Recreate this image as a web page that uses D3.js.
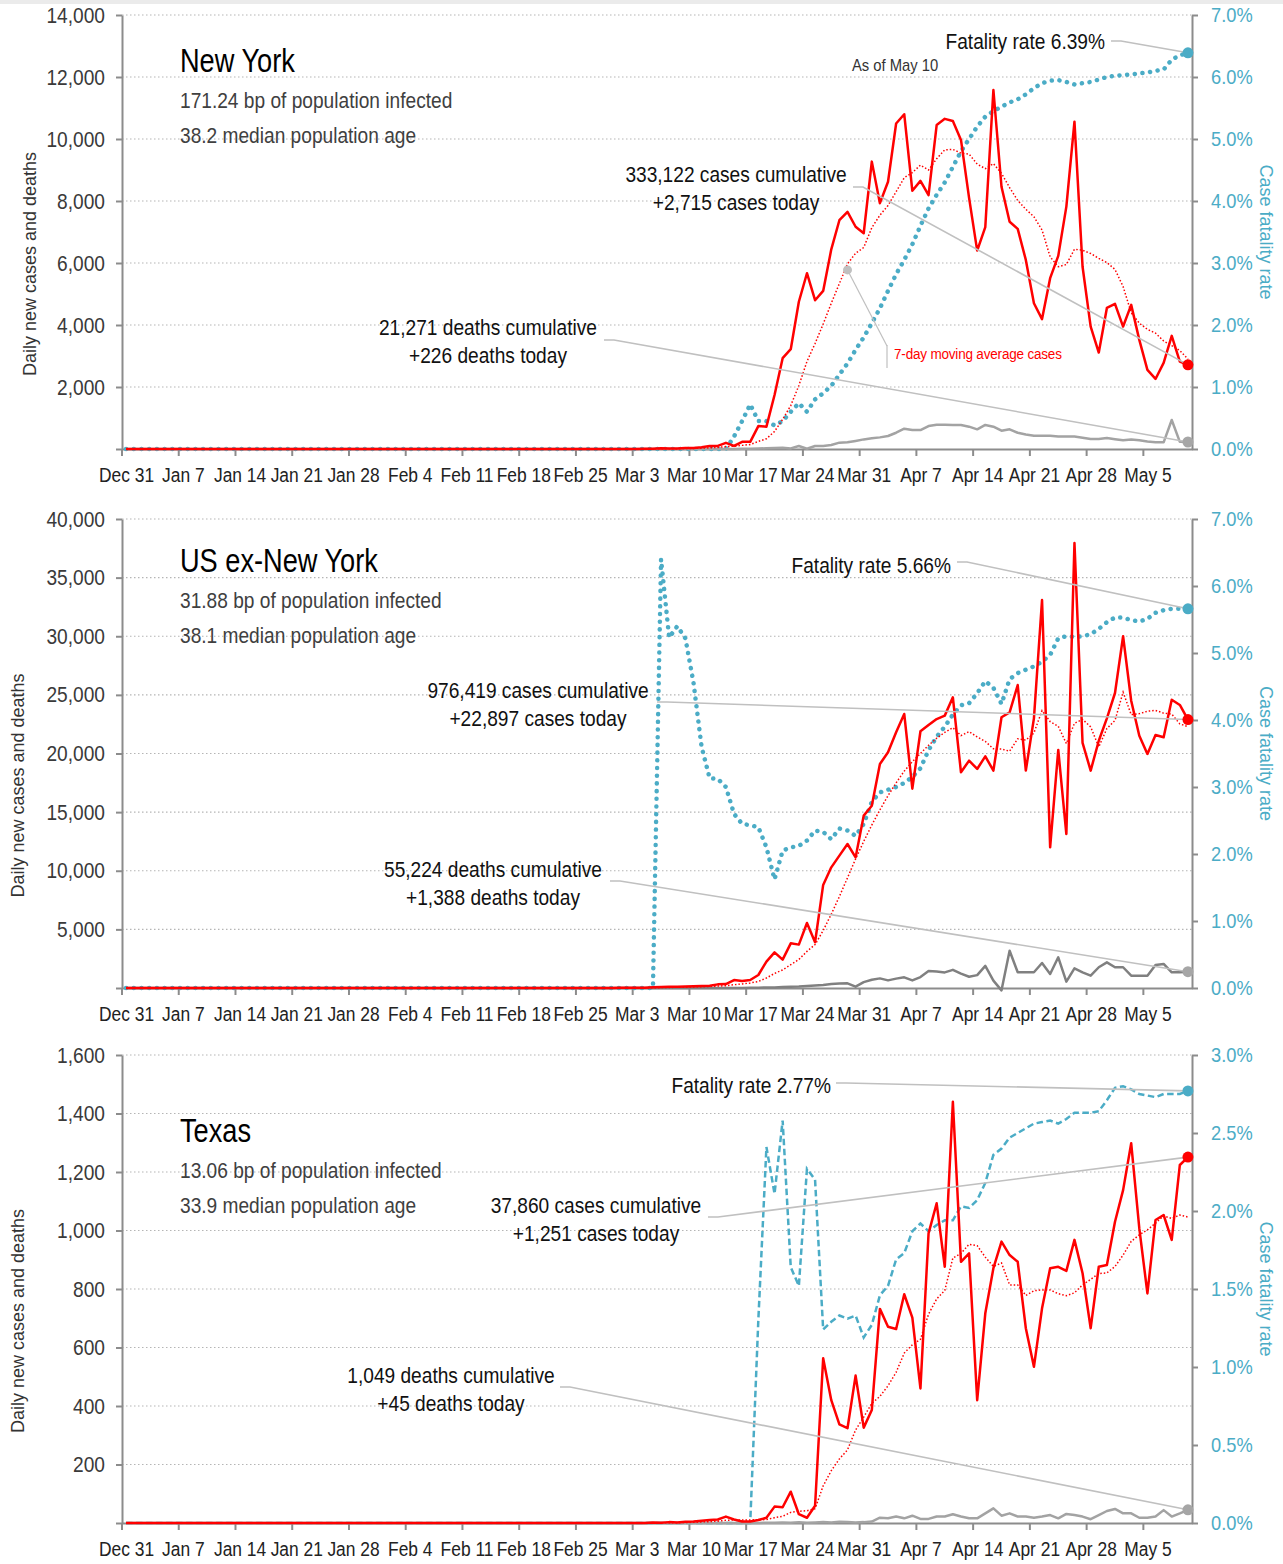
<!DOCTYPE html>
<html>
<head>
<meta charset="utf-8">
<script src="https://cdn.jsdelivr.net/npm/d3@7"></script>
<style>
    body { margin: 0; background: #ffffff; }
    svg text { font-family: "Liberation Sans", Arial, sans-serif; }
</style>
</head>
<body>
<div id="chart"></div>
<script>
"use strict"

/* days are counted from Dec 31 (day 0) to May 10 (day 131).
   every series below starts on Mar 1 (day 61); before that the picture shows zero */
const firstDay = 61;
const lastDay = 131;

const tickDays = [0, 7, 14, 21, 28, 35, 42, 49, 56, 63, 70, 77, 84, 91, 98, 105, 112, 119, 126];
const tickLabels = ["Dec 31", "Jan 7", "Jan 14", "Jan 21", "Jan 28", "Feb 4", "Feb 11", "Feb 18", "Feb 25",
    "Mar 3", "Mar 10", "Mar 17", "Mar 24", "Mar 31", "Apr 7", "Apr 14", "Apr 21", "Apr 28", "May 5"];

/* New York */
const nyCases = [0, 1, 0, 9, 11, 22, 13, 16, 36, 31,
    57, 100, 100, 200, 100, 230, 230, 740, 720, 1740,
    2930, 3220, 4750, 5670, 4800, 5100, 6440, 7380, 7650, 7170,
    6960, 9270, 7930, 8620, 10500, 10800, 8330, 8650, 8190, 10450,
    10650, 10580, 9970, 8100, 6400, 7160, 11580, 8460, 7330, 7100,
    6100, 4700, 4190, 5510, 6230, 7820, 10560, 5880, 3950, 3110,
    4550, 4680, 3950, 4650, 3520, 2550, 2260, 2780, 3650, 2820,
    2715];
const nyAverage = [0, 0, 0, 1, 3, 6, 8, 10, 15, 20,
    27, 39, 50, 77, 89, 117, 145, 243, 331, 566,
    956, 1401, 2047, 2824, 3404, 4030, 4701, 5337, 5970, 6316,
    6500, 7139, 7543, 7854, 8300, 8750, 8916, 9157, 9003, 9363,
    9653, 9664, 9546, 9513, 9191, 9044, 9206, 8893, 8429, 8019,
    7733, 7490, 7066, 6199, 5880, 5950, 6444, 6413, 6306, 6151,
    6014, 5793, 5240, 4396, 4059, 3859, 3737, 3484, 3337, 3176,
    2899];
const nyDeaths = [0, 0, 0, 0, 0, 0, 0, 0, 0, 0,
    0, 0, 0, 0, 0, 5, 10, 15, 25, 30,
    40, 20, 95, 10, 95, 95, 130, 205, 215, 260,
    310, 345, 375, 420, 525, 655, 610, 610, 740, 785,
    785, 775, 775, 720, 635, 775, 720, 590, 635, 525,
    470, 430, 430, 430, 400, 400, 400, 365, 320, 320,
    355, 315, 280, 305, 280, 240, 215, 215, 935, 230,
    226];
const nyRate = [0, 0, 0, 0, 0, 0, 0, 0, 0, 0,
    0, 0, 0, 0, 0.2, 0.45, 0.72, 0.45, 0.45, 0.38,
    0.45, 0.6, 0.74, 0.6, 0.8, 0.9, 1.02, 1.2, 1.38, 1.6,
    1.8, 2.03, 2.27, 2.55, 2.82, 3.05, 3.3, 3.6, 3.88, 4.1,
    4.3, 4.55, 4.8, 5.0, 5.2, 5.36, 5.45, 5.52, 5.59, 5.64,
    5.72, 5.82, 5.9, 5.94, 5.95, 5.92, 5.88, 5.9, 5.92, 5.96,
    6.0, 6.02, 6.03, 6.04, 6.06, 6.07, 6.1, 6.12, 6.28, 6.35,
    6.39];

/* US excluding New York */
const usCases = [20, 25, 20, 30, 60, 75, 100, 100, 120, 140,
    170, 200, 310, 340, 680, 600, 680, 1110, 2250, 3040,
    2420, 3810, 3700, 5540, 3900, 8790, 10290, 11290, 12280, 11140,
    14700, 15550, 19100, 20100, 21810, 23370, 17000, 21900, 22430, 22940,
    23230, 24790, 18400, 19390, 18680, 19760, 18540, 23090, 23510, 25840,
    18540, 23000, 33090, 12000, 20300, 13130, 37950, 20900, 18540, 21090,
    23000, 25160, 30000, 24500, 21520, 19960, 21580, 21380, 24590, 24140,
    22897];
const usAverage = [10, 12, 14, 17, 24, 33, 47, 59, 73, 89,
    109, 129, 163, 197, 280, 349, 426, 560, 853, 1243,
    1540, 1987, 2430, 3124, 3700, 4900, 6300, 7800, 9400, 11000,
    12500, 13900, 15200, 16400, 17500, 18500, 19300, 20000, 20700, 21300,
    21800, 22200, 21527, 21869, 21409, 21027, 20399, 20379, 20196, 21259,
    21137, 21754, 23659, 22724, 22326, 20843, 22573, 22910, 22273, 20559,
    22130, 22824, 25234, 23313, 23401, 23604, 23674, 23443, 23361, 22524,
    22295];
const usDeaths = [0, 0, 0, 0, 0, 0, 0, 0, 0, 0,
    0, 0, 5, 5, 10, 10, 20, 30, 40, 50,
    80, 100, 120, 170, 220, 260, 340, 380, 400, 110,
    500, 700, 820, 650, 800, 910, 650, 930, 1450, 1400,
    1330, 1550, 1220, 960, 1100, 1890, 630, -200, 3180, 1340,
    1340, 1340, 2130, 1190, 2620, 540, 1680, 1340, 1050, 1770,
    2190, 1770, 1770, 1050, 1050, 1050, 1960, 2050, 1340, 1340,
    1388];
const usRate = [0, 0, 0, 0, 0, 6.4, 5.23, 5.4, 5.22, 4.56,
    3.6, 3.13, 3.12, 3.0, 2.6, 2.45, 2.43, 2.4, 2.1, 1.62,
    2.05, 2.1, 2.12, 2.2, 2.35, 2.33, 2.22, 2.38, 2.35, 2.27,
    2.45, 2.78, 2.92, 2.96, 3.0, 3.06, 3.15, 3.28, 3.55, 3.75,
    3.9, 4.08, 4.22, 4.25, 4.4, 4.58, 4.48, 4.24, 4.61, 4.7,
    4.75, 4.8, 4.87, 4.97, 5.22, 5.25, 5.24, 5.25, 5.28, 5.36,
    5.46, 5.53, 5.53, 5.49, 5.47, 5.51, 5.6, 5.64, 5.66, 5.66,
    5.66];

/* Texas */
const txCases = [0, 0, 0, 0, 2, 1, 3, 2, 4, 5,
    8, 10, 12, 22, 12, 5, 5, 10, 18, 56,
    54, 107, 30, 18, 59, 563, 420, 337, 324, 504,
    326, 386, 732, 671, 663, 782, 702, 460, 990, 1093,
    876, 1440, 893, 922, 420, 717, 871, 962, 916, 893,
    666, 534, 734, 871, 876, 862, 968, 854, 666, 876,
    882, 1030, 1138, 1298, 1007, 785, 1036, 1053, 968, 1224,
    1251];
const txAverage = [0, 0, 0, 0, 0.3, 0.4, 0.9, 1.1, 1.7, 2.4,
    3.6, 4.7, 6.3, 9, 10.4, 10.6, 10.6, 10.9, 12, 18.3,
    22.9, 36.4, 40, 41.9, 48.9, 127, 179, 219, 250, 318,
    362, 409, 433, 469, 515, 581, 609, 628, 714, 766,
    795, 906, 922, 953, 948, 909, 877, 889, 814, 814,
    778, 794, 797, 797, 784, 777, 787, 814, 833, 853,
    855, 877, 916, 963, 985, 1002, 1025, 1050, 1041, 1053,
    1046];
const txDeaths = [0, 0, 0, 0, 0, 0, 0, 0, 0, 0,
    0, 0, 0, 0, 0, 0, 0, 0, 1, 1,
    2, 1, 3, 1, 2, 3, 2, 4, 3, 2,
    3, 5, 18, 16, 22, 16, 25, 14, 14, 22,
    22, 30, 22, 16, 16, 33, 50, 25, 33, 22,
    22, 18, 22, 27, 16, 31, 27, 22, 13, 27,
    41, 48, 33, 33, 18, 18, 22, 44, 22, 33,
    45];
const txRate = [0, 0, 0, 0, 0, 0, 0, 0, 0, 0,
    0, 0, 0, 0, 0, 0, 0, 1.3, 2.41, 2.11,
    2.58, 1.64, 1.52, 2.27, 2.2, 1.24, 1.29, 1.33, 1.31, 1.33,
    1.19, 1.27, 1.46, 1.52, 1.69, 1.73, 1.87, 1.92, 1.87, 1.91,
    1.94, 1.94, 2.03, 2.02, 2.07, 2.18, 2.36, 2.4, 2.47, 2.5,
    2.53, 2.56, 2.57, 2.58, 2.56, 2.59, 2.63, 2.63, 2.63, 2.64,
    2.71, 2.79, 2.8, 2.78, 2.75, 2.74, 2.73, 2.75, 2.75, 2.75,
    2.77];

const red = "#ff0000";
const blue = "#4bacc6";
const axisColor = "#8c8c8c";
const leaderColor = "#c0c0c0";
const squeeze = 0.87; // the original uses a condensed face; we narrow Liberation Sans instead

/* each panel: scales, texts and where the call-outs sit */
const panels = [
    {
        top: 15, bottom: 449, yMax: 14000, yStep: 2000, rMax: 7, rStep: 1, yTitleX: 30,
        cases: nyCases, average: nyAverage, deaths: nyDeaths, rate: nyRate,
        rateStyle: "dots", deathColor: "#a3a3a3",
        title: "New York", titleY: 72,
        lines: ["171.24 bp of population infected", "38.2 median population age"],
        rateText: "Fatality rate 6.39%", rateAt: [1105, 49], rateLead: [1111, 41],
        casesText: ["333,122 cases cumulative", "+2,715 cases today"], casesAt: [736, 182], casesLead: [853, 187],
        deathsText: ["21,271 deaths cumulative", "+226 deaths today"], deathsAt: [488, 335], deathsLead: [604, 340],
        asOf: true
    },
    {
        top: 519, bottom: 988, yMax: 40000, yStep: 5000, rMax: 7, rStep: 1, yTitleX: 18,
        cases: usCases, average: usAverage, deaths: usDeaths, rate: usRate,
        rateStyle: "dots", deathColor: "#808080",
        title: "US ex-New York", titleY: 572,
        lines: ["31.88 bp of population infected", "38.1 median population age"],
        rateText: "Fatality rate 5.66%", rateAt: [951, 573], rateLead: [957, 562],
        casesText: ["976,419 cases cumulative", "+22,897 cases today"], casesAt: [538, 698], casesLead: [657, 702],
        deathsText: ["55,224 deaths cumulative", "+1,388 deaths today"], deathsAt: [493, 877], deathsLead: [610, 881],
        asOf: false
    },
    {
        top: 1055, bottom: 1523, yMax: 1600, yStep: 200, rMax: 3, rStep: 0.5, yTitleX: 18,
        cases: txCases, average: txAverage, deaths: txDeaths, rate: txRate,
        rateStyle: "dashes", deathColor: "#a3a3a3",
        title: "Texas", titleY: 1142,
        lines: ["13.06 bp of population infected", "33.9 median population age"],
        rateText: "Fatality rate 2.77%", rateAt: [831, 1093], rateLead: [836, 1083],
        casesText: ["37,860 cases cumulative", "+1,251 cases today"], casesAt: [596, 1213], casesLead: [708, 1217],
        deathsText: ["1,049 deaths cumulative", "+45 deaths today"], deathsAt: [451, 1383], deathsLead: [560, 1387],
        asOf: false
    }
];

let drawing = d3.select("#chart")
    .append("svg")
    .attr("width", 1283)
    .attr("height", 1564);

drawing.append("rect") // thin grey strip along the top edge
    .attr("x", 0).attr("y", 0)
    .attr("width", 1283).attr("height", 4)
    .attr("fill", "#ebebeb");

let x = d3.scaleLinear().domain([-0.5, lastDay + 0.5]).range([122, 1192]);

function fullSeries(values) {
    // zero for every day before Mar 1
    return d3.range(0, firstDay).map(() => 0).concat(values);
}

function styleAxis(g, size) {
    g.select(".domain").attr("stroke", axisColor).attr("stroke-width", 2);
    g.selectAll(".tick line").attr("stroke", axisColor).attr("stroke-width", 2);
    g.selectAll(".tick text").attr("font-size", size).attr("fill", "#3a3a3a")
        .attr("font-family", null).classed("narrow", true);
}

function drawPanel(p) {
    let y = d3.scaleLinear().domain([0, p.yMax]).range([p.bottom, p.top]);
    let r = d3.scaleLinear().domain([0, p.rMax]).range([p.bottom, p.top]);
    let g = drawing.append("g");

    /* dotted gridlines at every left tick */
    let yTicks = d3.range(p.yStep, p.yMax + 1, p.yStep);
    g.selectAll(".grid").data(yTicks).enter().append("line")
        .attr("x1", 122).attr("x2", 1192)
        .attr("y1", d => y(d)).attr("y2", d => y(d))
        .attr("stroke", "#b5b5b5")
        .attr("stroke-width", 1.2)
        .attr("stroke-dasharray", "1.5,2.5");

    /* axes */
    let left = g.append("g").attr("transform", "translate(122,0)")
        .call(d3.axisLeft(y).tickValues([0].concat(yTicks)).tickSize(6).tickSizeOuter(0).tickPadding(11)
            .tickFormat(d => d === 0 ? "" : d3.format(",")(d)));
    styleAxis(left, 22);

    let right = g.append("g").attr("transform", "translate(1192,0)")
        .call(d3.axisRight(r).tickValues(d3.range(0, p.rMax + 0.01, p.rStep)).tickSize(6).tickSizeOuter(0).tickPadding(13)
            .tickFormat(d => d.toFixed(1) + "%"));
    styleAxis(right, 21);
    right.selectAll(".tick text").attr("fill", blue);

    let bottom = g.append("g").attr("transform", "translate(0," + p.bottom + ")")
        .call(d3.axisBottom(x).tickValues(tickDays).tickSize(0).tickSizeOuter(0).tickPadding(19)
            .tickFormat((d, i) => tickLabels[i]));
    styleAxis(bottom, 20);
    bottom.selectAll(".tick text").attr("fill", "#222");
    // tick marks sit half a day before each labelled date
    g.selectAll(".xtick").data(tickDays).enter().append("line")
        .attr("x1", d => x(d - 0.5)).attr("x2", d => x(d - 0.5))
        .attr("y1", p.bottom).attr("y2", p.bottom + 7)
        .attr("stroke", axisColor).attr("stroke-width", 2);

    /* axis titles (normal width face) */
    let mid = (p.top + p.bottom) / 2;
    g.append("text")
        .attr("transform", "translate(" + p.yTitleX + "," + (mid + 32) + ") rotate(-90)")
        .attr("text-anchor", "middle").attr("dominant-baseline", "central")
        .attr("font-size", 18).attr("fill", "#333")
        .text("Daily new cases and deaths");
    g.append("text")
        .attr("transform", "translate(1266," + mid + ") rotate(90)")
        .attr("text-anchor", "middle").attr("dominant-baseline", "central")
        .attr("font-size", 18).attr("fill", blue)
        .text("Case fatality rate");

    /* series */
    let cases = fullSeries(p.cases);
    let average = fullSeries(p.average);
    let deaths = fullSeries(p.deaths);
    let rate = fullSeries(p.rate);

    let onLeft = d3.line().x((d, i) => x(i)).y(d => y(d));
    let onRight = d3.line().x((d, i) => x(i)).y(d => r(d));

    let rateLine = g.append("path").datum(rate)
        .attr("d", onRight).attr("fill", "none").attr("stroke", blue);
    if (p.rateStyle === "dots") {
        rateLine.attr("stroke-width", 4.5).attr("stroke-linecap", "round").attr("stroke-dasharray", "0.1,7.6");
    } else {
        rateLine.attr("stroke-width", 2.5).attr("stroke-dasharray", "6.5,3.5");
    }

    g.append("path").datum(deaths)
        .attr("d", onLeft).attr("fill", "none")
        .attr("stroke", p.deathColor).attr("stroke-width", 2.5).attr("stroke-linejoin", "round");

    g.append("path").datum(average)
        .attr("d", onLeft).attr("fill", "none")
        .attr("stroke", red).attr("stroke-width", 1.5).attr("stroke-dasharray", "1.5,2");

    g.append("path").datum(cases)
        .attr("d", onLeft).attr("fill", "none")
        .attr("stroke", red).attr("stroke-width", 2.5).attr("stroke-linejoin", "round");

    /* call-out leaders to the latest values */
    let endX = x(lastDay);
    let ends = [
        { lead: p.rateLead, to: [endX, r(rate[lastDay])], color: blue },
        { lead: p.casesLead, to: [endX, y(cases[lastDay])], color: red },
        { lead: p.deathsLead, to: [endX, y(deaths[lastDay])], color: "#a6a6a6" }
    ];
    ends.forEach(e => {
        g.append("polyline")
            .attr("points", [e.lead, [e.lead[0] + 10, e.lead[1]], e.to].map(pt => pt.join(",")).join(" "))
            .attr("fill", "none").attr("stroke", leaderColor).attr("stroke-width", 1.6);
    });
    ends.forEach(e => {
        g.append("circle")
            .attr("cx", e.to[0]).attr("cy", e.to[1]).attr("r", 5.5)
            .attr("fill", e.color);
    });

    /* texts */
    g.append("text").attr("class", "narrow title").attr("x", 180).attr("y", p.titleY)
        .attr("font-size", 34).attr("fill", "#000").text(p.title);
    p.lines.forEach((t, i) => {
        g.append("text").attr("class", "narrow").attr("x", 180).attr("y", p.titleY + 36 + i * 35)
            .attr("font-size", 22).attr("fill", "#404040").text(t);
    });

    g.append("text").attr("class", "narrow").attr("x", p.rateAt[0]).attr("y", p.rateAt[1])
        .attr("text-anchor", "end").attr("font-size", 22).attr("fill", "#111").text(p.rateText);

    [[p.casesText, p.casesAt], [p.deathsText, p.deathsAt]].forEach(pair => {
        pair[0].forEach((t, i) => {
            g.append("text").attr("class", "narrow").attr("x", pair[1][0]).attr("y", pair[1][1] + i * 28)
                .attr("text-anchor", "middle").attr("font-size", 22).attr("fill", "#111").text(t);
        });
    });

    if (p.asOf) {
        g.append("text").attr("class", "narrow").attr("x", 852).attr("y", 71)
            .attr("font-size", 17).attr("fill", "#333").text("As of May 10");

        // moving-average label with its pointer on the dotted line
        let markDay = 89;
        let mx = x(markDay), my = y(average[markDay]) + 6;
        g.append("polyline")
            .attr("points", mx + "," + my + " 887,346")
            .attr("fill", "none").attr("stroke", leaderColor).attr("stroke-width", 1.2);
        g.append("line")
            .attr("x1", 887).attr("x2", 887).attr("y1", 345).attr("y2", 368)
            .attr("stroke", leaderColor).attr("stroke-width", 1.2);
        g.append("circle").attr("cx", mx).attr("cy", my).attr("r", 4.5).attr("fill", "#c0c0c0");
        g.append("text").attr("class", "narrow").attr("x", 894).attr("y", 359)
            .attr("font-size", 15.5).attr("letter-spacing", -0.2).attr("fill", red).text("7-day moving average cases");
    }
}

panels.forEach(drawPanel);

/* squeeze the narrow texts horizontally around their own x */
drawing.selectAll("text.narrow").each(function () {
    let t = d3.select(this);
    let k = t.classed("title") ? 0.8 : squeeze;
    t.attr("x", (+t.attr("x") || 0) / k).attr("transform", "scale(" + k + ",1)");
});
</script>
</body>
</html>
